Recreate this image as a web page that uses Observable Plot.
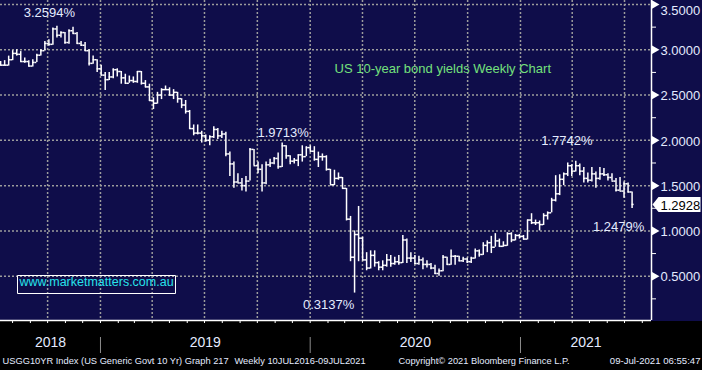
<!DOCTYPE html>
<html>
<head>
<meta charset="utf-8">
<script src="https://cdn.jsdelivr.net/npm/d3@7"></script>
<script src="https://cdn.jsdelivr.net/npm/@observablehq/plot@0.6"></script>
<style>
  html, body { margin: 0; padding: 0; background: #000; }
  #chart svg { display: block; }
</style>
</head>
<body>
<div id="chart"></div>
<script>
// ---------- DATA (weekly bars, Friday dates) ----------
const weekStart = "2018-07-06";
const weekEnd = "2021-07-09";
const firstOpen = 2.86;
const high = [
  // 2018
  2.87,2.88,2.93,2.99,3.00,2.98,2.91,2.88,2.89,2.95,3.00,3.09,3.11,3.24,3.26,3.20,3.19,3.22,3.25,3.19,3.09,3.08,3.00,2.93,2.89,2.83,
  // 2019
  2.75,2.75,2.79,2.79,2.76,2.73,2.71,2.70,2.76,2.76,2.66,2.62,2.47,2.53,2.57,2.60,2.58,2.56,2.53,2.46,2.44,2.33,2.17,2.17,2.10,2.06,
  2.05,2.15,2.13,2.10,2.09,1.87,1.76,1.63,1.58,1.60,1.91,1.90,1.76,1.73,1.76,1.79,1.81,1.86,1.97,1.94,1.83,1.80,1.84,1.94,1.93,1.94,
  // 2020
  1.93,1.87,1.85,1.83,1.68,1.67,1.64,1.59,1.47,1.16,1.00,1.27,0.93,0.76,0.78,0.78,0.66,0.67,0.74,0.73,0.71,0.73,0.95,0.91,0.76,0.73,
  0.72,0.70,0.67,0.64,0.62,0.58,0.73,0.71,0.79,0.73,0.72,0.71,0.70,0.71,0.80,0.79,0.87,0.89,0.94,0.97,0.91,0.88,0.98,0.98,0.96,0.96,
  // 2021
  0.95,1.12,1.19,1.12,1.11,1.19,1.21,1.36,1.61,1.62,1.64,1.75,1.73,1.77,1.74,1.70,1.64,1.70,1.65,1.70,1.69,1.63,1.63,1.58,1.59,1.54,1.53,1.43
];
const low = [
  // 2018
  2.82,2.82,2.82,2.88,2.93,2.86,2.85,2.81,2.81,2.86,2.93,2.99,3.04,3.05,3.13,3.13,3.06,3.06,3.17,3.06,3.04,2.98,2.82,2.84,2.75,2.71,
  // 2019
  2.55,2.66,2.68,2.70,2.62,2.62,2.63,2.63,2.63,2.61,2.58,2.43,2.34,2.40,2.45,2.55,2.49,2.45,2.41,2.35,2.29,2.12,2.05,2.06,1.97,1.98,
  1.94,2.02,2.01,2.02,1.82,1.60,1.47,1.53,1.44,1.43,1.55,1.72,1.63,1.43,1.51,1.70,1.73,1.68,1.70,1.79,1.73,1.74,1.71,1.76,1.82,1.87,
  // 2020
  1.77,1.70,1.77,1.66,1.51,1.50,1.56,1.46,1.11,0.66,0.3137,0.66,0.67,0.56,0.58,0.60,0.56,0.56,0.60,0.60,0.62,0.62,0.64,0.64,0.65,0.63,
  0.62,0.57,0.59,0.57,0.52,0.50,0.55,0.62,0.62,0.62,0.66,0.65,0.64,0.64,0.69,0.71,0.73,0.76,0.75,0.82,0.82,0.82,0.83,0.87,0.89,0.91,
  // 2021
  0.90,0.90,1.07,1.06,1.00,1.06,1.12,1.20,1.32,1.39,1.50,1.60,1.60,1.65,1.61,1.53,1.53,1.54,1.47,1.56,1.60,1.55,1.55,1.43,1.44,1.36,1.42,1.2479
];
const close = [
  // 2018
  2.83,2.83,2.89,2.96,2.95,2.87,2.87,2.82,2.86,2.94,2.99,3.07,3.06,3.23,3.16,3.19,3.08,3.21,3.18,3.07,3.05,2.99,2.85,2.89,2.79,2.72,
  // 2019
  2.67,2.70,2.78,2.76,2.69,2.63,2.66,2.65,2.76,2.63,2.59,2.44,2.41,2.50,2.56,2.56,2.50,2.53,2.46,2.39,2.32,2.13,2.08,2.08,2.05,2.00,
  2.04,2.12,2.05,2.07,1.85,1.74,1.54,1.53,1.50,1.55,1.90,1.72,1.68,1.53,1.73,1.75,1.80,1.71,1.94,1.83,1.77,1.78,1.84,1.82,1.92,1.88,
  // 2020
  1.79,1.82,1.82,1.68,1.51,1.58,1.59,1.47,1.13,0.71,0.96,0.92,0.68,0.59,0.73,0.65,0.60,0.62,0.68,0.64,0.66,0.65,0.90,0.70,0.70,0.64,
  0.68,0.63,0.63,0.59,0.53,0.56,0.71,0.63,0.72,0.72,0.67,0.69,0.66,0.70,0.78,0.74,0.84,0.87,0.82,0.89,0.83,0.84,0.97,0.90,0.95,0.94,
  // 2021
  0.91,1.12,1.09,1.09,1.07,1.17,1.20,1.34,1.41,1.57,1.63,1.72,1.66,1.72,1.66,1.58,1.56,1.63,1.58,1.63,1.62,1.59,1.55,1.45,1.44,1.52,1.43,1.2928
];
const yTicks = [0.5, 1, 1.5, 2, 2.5, 3, 3.5];
const yMinor = [0.25, 0.75, 1.25, 1.75, 2.25, 2.75, 3.25];
const years = [2018, 2019, 2020, 2021];
const annoText = ["3.2594%", "1.9713%", "1.7742%", "0.3137%", "1.2479%"];
const annoDate = ["2018-10-12", "2019-11-08", "2021-04-02", "2020-03-13", "2021-07-09"];
const annoValue = [3.2594, 1.9713, 1.7742, 0.3137, 1.2479];
const title = "US 10-year bond yields Weekly Chart";
const watermark = "www.marketmatters.com.au";
const footerLeft = ["USGG10YR Index (US Generic Govt 10 Yr) Graph 217", "Weekly 10JUL2016-09JUL2021", "Copyright\u00A9 2021 Bloomberg Finance L.P."];
const footerRight = "09-Jul-2021 06:55:47";

// ---------- BUILD ----------
const dates = d3.utcFriday.range(new Date(weekStart), d3.utcDay.offset(new Date(weekEnd), 1));
const rows = dates.map((date, i) => ({
  date, open: i ? close[i - 1] : firstOpen, high: high[i], low: low[i], close: close[i]
}));
const annos = annoText.map((t, i) => ({text: t, date: new Date(annoDate[i]), value: annoValue[i]}));

const xDomain = [new Date("2018-07-11"), new Date("2021-08-17")];
const yDomain = [0.011, 3.544];
const quarters = d3.utcMonth.every(3).range(xDomain[0], xDomain[1]);
const months = d3.utcMonth.every(1).range(xDomain[0], xDomain[1]);
const yearStarts = d3.utcYear.range(xDomain[0], xDomain[1]);
const yearCenter = (y) => {
  const a = Math.max(+new Date(Date.UTC(y, 0, 1)), +xDomain[0]);
  const b = Math.min(+new Date(Date.UTC(y + 1, 0, 1)), +xDomain[1]);
  return new Date((a + b) / 2);
};

const WHITE = "#ffffff", TXT = "#e4ebff", GRID = "#9c9c9c", GREEN = "#74e07c", CYAN = "#27e2ea";
const barDx = 3, halfTick = 3.5 * 864e5;
const fmt4 = d3.format(".4f");

const tagSymbol = {draw(ctx) {
  ctx.moveTo(0, 0); ctx.lineTo(6, -7.5); ctx.lineTo(48, -7.5); ctx.lineTo(48, 7.5); ctx.lineTo(6, 7.5); ctx.closePath();
}};
const boxSymbol = {draw(ctx) {
  ctx.moveTo(-79, -9); ctx.lineTo(79, -9); ctx.lineTo(79, 9); ctx.lineTo(-79, 9); ctx.closePath();
}};
const annoOffsets = [[-4.5, -13], [4, -10], [-6, -19.5], [-23, 12], [-10.5, 18]];

const chart = Plot.plot({
  width: 702, height: 370,
  marginLeft: 0, marginRight: 51, marginTop: 0, marginBottom: 50,
  style: "background: linear-gradient(to bottom, #0f0d4a 0px, #0f0d4a 321px, #000 321px, #000 370px); font-family: 'Liberation Sans', Arial, sans-serif; color: #e4ebff;",
  x: {type: "utc", domain: xDomain},
  y: {domain: yDomain},
  marks: [
    Plot.gridX(quarters, {stroke: GRID, strokeOpacity: 1, strokeWidth: 1.5, strokeDasharray: "2,2"}),
    Plot.gridY(yTicks, {stroke: GRID, strokeOpacity: 1, strokeWidth: 1.5, strokeDasharray: "2,2"}),
    // axis lines
    Plot.ruleX([xDomain[1]], {stroke: WHITE, strokeWidth: 1.5}),
    Plot.ruleY([yDomain[0]], {stroke: WHITE, strokeWidth: 1.5}),
    // x axis ticks and year separators
    Plot.axisX(months, {tickSize: 3, tickFormat: () => "", color: WHITE, label: null}),
    Plot.axisX(yearStarts, {tickSize: 16, dy: 17, tickFormat: () => "", color: "#8c8c8c", label: null}),
    Plot.text(years, {x: yearCenter, frameAnchor: "bottom", dy: 26, text: (d) => String(d), fill: TXT, fontSize: 14}),
    // y axis
    Plot.axisY(yMinor, {anchor: "right", tickSize: 4, tickFormat: () => "", color: WHITE, label: null}),
    Plot.dot(yTicks, {y: (d) => d, frameAnchor: "right", symbol: "triangle", rotate: 90, r: 3.2, fill: WHITE, dx: 3}),
    Plot.text(yTicks.filter((v) => v < 3.5), {y: (d) => d, frameAnchor: "right", dx: 9, dy: 1, textAnchor: "start", text: fmt4, fill: TXT, fontSize: 13}),
    Plot.text(yTicks.filter((v) => v >= 3.5), {y: (d) => d, frameAnchor: "right", dx: 9, dy: 6, textAnchor: "start", text: fmt4, fill: TXT, fontSize: 13}),
    // bars
    Plot.ruleX(rows, {x: "date", y1: "low", y2: "high", stroke: WHITE, strokeWidth: 1.5, dx: barDx, clip: true}),
    Plot.ruleY(rows, {y: "open", x1: (d) => new Date(+d.date - halfTick), x2: "date", stroke: WHITE, strokeWidth: 1.5, dx: barDx, clip: true}),
    Plot.ruleY(rows, {y: "close", x1: "date", x2: (d) => new Date(+d.date + halfTick), stroke: WHITE, strokeWidth: 1.5, dx: barDx, clip: true}),
    // last value tag
    Plot.dot([close[close.length - 1]], {y: (d) => d, frameAnchor: "right", symbol: tagSymbol, fill: WHITE, dx: 1}),
    Plot.text([close[close.length - 1]], {y: (d) => d, frameAnchor: "right", dx: 9, dy: 1, textAnchor: "start", text: fmt4, fill: "#000", fontSize: 13}),
    // annotations
    ...annos.map((a, i) => Plot.text([a], {x: "date", y: "value", text: "text", dx: annoOffsets[i][0], dy: annoOffsets[i][1], fill: TXT, fontSize: 13})),
    // title
    Plot.text([title], {frameAnchor: "top-left", dx: 334, dy: 63, textAnchor: "start", text: (d) => d, fill: GREEN, fontSize: 13}),
    // watermark
    Plot.dot([watermark], {frameAnchor: "bottom-left", dx: 96, dy: -36, symbol: boxSymbol, fill: "none", stroke: WHITE, strokeWidth: 1}),
    Plot.text([watermark], {frameAnchor: "bottom-left", dx: 96, dy: -35, textAnchor: "middle", text: (d) => d, fill: CYAN, fontSize: 12.5}),
    // footer
    Plot.text([footerLeft[0]], {frameAnchor: "bottom-left", dx: 2, dy: 43, textAnchor: "start", text: (d) => d, fill: TXT, fontSize: 9.3}),
    Plot.text([footerLeft[1]], {frameAnchor: "bottom-left", dx: 234, dy: 43, textAnchor: "start", text: (d) => d, fill: TXT, fontSize: 9.3}),
    Plot.text([footerLeft[2]], {frameAnchor: "bottom-left", dx: 398, dy: 43, textAnchor: "start", text: (d) => d, fill: TXT, fontSize: 9.3}),
    Plot.text([footerRight], {frameAnchor: "bottom-right", dx: 49, dy: 43, textAnchor: "end", text: (d) => d, fill: TXT, fontSize: 9.6})
  ]
});
document.getElementById("chart").appendChild(chart);
</script>
</body>
</html>
